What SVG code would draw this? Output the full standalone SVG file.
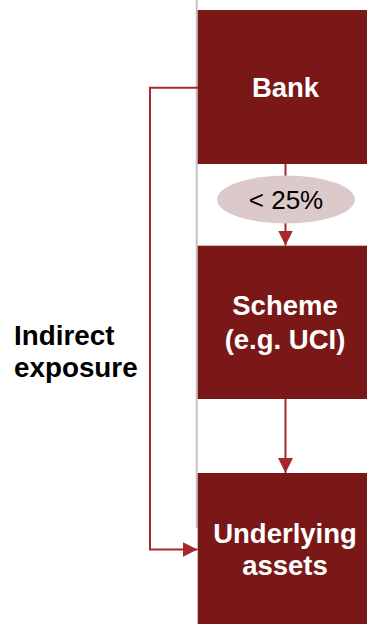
<svg xmlns="http://www.w3.org/2000/svg" width="367" height="624" viewBox="0 0 367 624">
<defs>
<style>
.box{fill:#7a1818}
.lbl{font-family:"Liberation Sans",Arial,sans-serif;font-weight:bold;font-size:27.5px;fill:#ffffff;text-anchor:middle}
.side{font-family:"Liberation Sans",Arial,sans-serif;font-weight:bold;font-size:27.8px;fill:#000000}
.pct{font-family:"Liberation Sans",Arial,sans-serif;font-size:26px;fill:#000000;text-anchor:middle}
.con{fill:none;stroke:#a8282a;stroke-width:2}
</style>
<marker id="ah" viewBox="0 0 15 15" markerWidth="15" markerHeight="15" refX="15" refY="7.5" orient="auto" markerUnits="userSpaceOnUse">
<path d="M0,0 L15,7.5 L0,15 Z" fill="#a8282a"/>
</marker>
</defs>
<rect width="367" height="624" fill="#ffffff"/>
<line x1="196.7" y1="0" x2="196.7" y2="528" stroke="#c4c4c4" stroke-width="2"/>
<g id="connectors">
<path class="con" d="M285.5,164 V245.5" marker-end="url(#ah)"/>
<path class="con" d="M285.5,399 V473" marker-end="url(#ah)"/>
<path class="con" d="M198,87.7 H150 V549.5 H197.5" marker-end="url(#ah)"/>
</g>
<g id="bank">
<rect class="box" x="197.7" y="10" width="180" height="154"/>
<text class="lbl" x="285.5" y="96.7">Bank</text>
</g>
<g id="pct-label">
<ellipse cx="286" cy="199.5" rx="69" ry="24" fill="#dccaca"/>
<text class="pct" x="286" y="208.5">&lt; 25%</text>
</g>
<g id="scheme">
<rect class="box" x="197.7" y="245.7" width="180" height="153.3"/>
<text class="lbl" x="285" y="315">Scheme</text>
<text class="lbl" x="285" y="349">(e.g. UCI)</text>
</g>
<g id="underlying">
<rect class="box" x="197.7" y="473" width="180" height="151"/>
<text class="lbl" x="285" y="543.3">Underlying</text>
<text class="lbl" x="285" y="575">assets</text>
</g>
<g id="indirect-label">
<text class="side" x="14" y="345">Indirect</text>
<text class="side" x="14" y="377">exposure</text>
</g>
</svg>
